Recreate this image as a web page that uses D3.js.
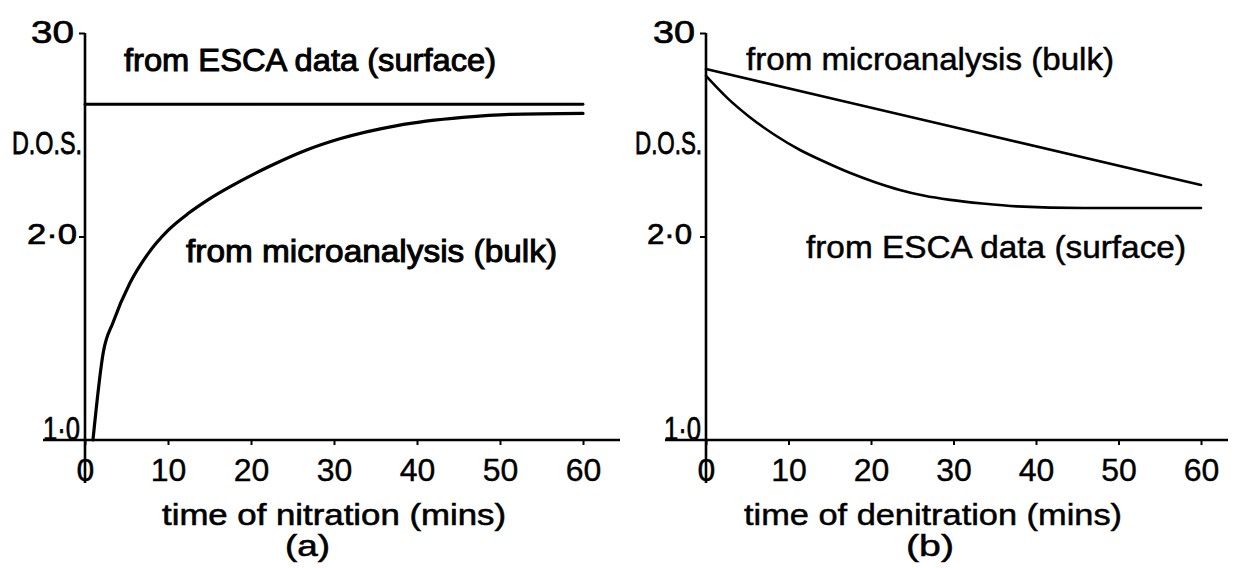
<!DOCTYPE html>
<html>
<head>
<meta charset="utf-8">
<script src="https://cdn.jsdelivr.net/npm/d3@7/dist/d3.min.js"></script>
<style>
  html, body { margin: 0; padding: 0; background: #fff; }
  svg { display: block; }
  text { font-family: "Liberation Sans", "DejaVu Sans", sans-serif; fill: #000; }
</style>
</head>
<body>
<svg id="chart" width="1234" height="568"></svg>
<script>
// Time axis (minutes) and D.O.S. axis
const xTicks = [0, 10, 20, 30, 40, 50, 60];
const yTicks = [1, 2, 3];
const yTickLabels = ["1·0", "2·0", "30"];

// (a) nitration: [time (mins), D.O.S.]
const nitrationSurface = [[0, 2.65], [60, 2.65]];
const nitrationBulk = [
  [0.96, 1.0], [2.2, 1.43], [3.4, 1.58], [5.4, 1.77], [7.5, 1.91], [10, 2.03],
  [12.5, 2.115], [15, 2.185], [17.5, 2.245], [22, 2.34], [26.7, 2.425],
  [30.7, 2.48], [37.6, 2.545], [45.5, 2.585], [51.2, 2.6], [60, 2.605]
];

// (b) denitration
const denitrationBulk = [[0, 2.823], [30, 2.538], [60, 2.253]];
const denitrationSurface = [
  [0, 2.789], [2.6, 2.68], [5.2, 2.59], [8.3, 2.5], [11.4, 2.425], [14.5, 2.365],
  [17.5, 2.312], [20.5, 2.267], [23.5, 2.229], [26.5, 2.2], [29.6, 2.18],
  [33.5, 2.162], [37.7, 2.148], [45.7, 2.14], [60, 2.14]
];

const svg = d3.select("#chart");

// Write a label stretched to a given width, with a slight stroke for pen weight
function label(g, str, x, y, size, width, anchor, weight) {
  const t = g.append("text")
    .attr("x", x).attr("y", y)
    .attr("font-size", size)
    .attr("text-anchor", anchor || "start")
    .attr("stroke", "#000").attr("stroke-width", weight || 0.5)
    .text(str);
  if (width) t.attr("textLength", width).attr("lengthAdjust", "spacingAndGlyphs");
  return t;
}

function panel(opts) {
  const g = svg.append("g");
  const x = d3.scaleLinear().domain([0, 60]).range([opts.x0, opts.x0 + opts.w]);
  const y = d3.scaleLinear().domain([1, 3]).range([440, 33]);

  // x axis: extended baseline plus downward ticks
  g.append("line")
    .attr("x1", x(0) - opts.axisLeftExt).attr("x2", opts.axisRight)
    .attr("y1", y(1)).attr("y2", y(1))
    .attr("stroke", "#000").attr("stroke-width", 2.6);

  const xa = g.append("g")
    .attr("transform", `translate(0,${y(1)})`)
    .call(d3.axisBottom(x).tickValues(xTicks).tickSize(5).tickPadding(13).tickFormat(d3.format("d")));
  xa.select(".domain").remove();
  xa.selectAll(".tick line").attr("stroke", "#000").attr("stroke-width", 2);
  xa.selectAll(".tick text")
    .attr("font-size", 32).attr("font-family", "Liberation Sans, DejaVu Sans, sans-serif")
    .attr("fill", "#000").attr("stroke", "#000").attr("stroke-width", 0.4);

  // y axis running down through the "0" label
  g.append("line")
    .attr("x1", x(0)).attr("x2", x(0))
    .attr("y1", y(3)).attr("y2", y(1) + 43)
    .attr("stroke", "#000").attr("stroke-width", 2.6);

  const ya = g.append("g")
    .attr("transform", `translate(${x(0)},0)`)
    .call(d3.axisLeft(y).tickValues([2, 3]).tickSize(6).tickFormat(""));
  ya.select(".domain").remove();
  ya.selectAll(".tick line").attr("stroke", "#000").attr("stroke-width", 2);

  // y tick labels
  yTicks.forEach((v, i) => {
    const p = opts.yLabels[i];
    label(g, yTickLabels[i], x(0) - p.gap, y(v) + p.dy, p.size, p.width, "end", 0.7);
  });
  label(g, "D.O.S.", x(0) - opts.dosGap, 154, 31, opts.dosWidth, "end", 0.8);

  // series
  const line = d3.line().x(d => x(d[0])).y(d => y(d[1])).curve(d3.curveMonotoneX);
  opts.series.forEach(s => {
    g.append("path").datum(s.data)
      .attr("d", line)
      .attr("fill", "none").attr("stroke", "#000")
      .attr("stroke-width", s.width).attr("stroke-linejoin", "round").attr("stroke-linecap", "round");
  });

  // annotations and titles
  opts.texts.forEach(t => label(g, t.str, t.x, t.y, t.size, t.width, "start", t.weight));
}

panel({
  x0: 85, w: 498, axisLeftExt: 42, axisRight: 620, dosGap: 3, dosWidth: 70,
  yLabels: [
    { gap: 5, dy: 0, size: 33, width: 37 },
    { gap: 8, dy: 7, size: 30, width: 50 },
    { gap: 11, dy: 10, size: 32, width: 43 }
  ],
  series: [
    { data: nitrationSurface, width: 2.8 },
    { data: nitrationBulk, width: 3.2 }
  ],
  texts: [
    { str: "from ESCA data (surface)", x: 124, y: 71, size: 32, width: 372, weight: 1.0 },
    { str: "from microanalysis (bulk)", x: 186, y: 262, size: 32, width: 371, weight: 1.0 },
    { str: "time of nitration (mins)", x: 162, y: 525, size: 30, width: 344, weight: 0.6 },
    { str: "(a)", x: 285, y: 556, size: 30, width: 45, weight: 0.6 }
  ]
});

panel({
  x0: 706, w: 495, axisLeftExt: 41, axisRight: 1228, dosGap: 4, dosWidth: 67,
  yLabels: [
    { gap: 5, dy: 0, size: 33, width: 37 },
    { gap: 14, dy: 7, size: 30, width: 45 },
    { gap: 11, dy: 10, size: 32, width: 42 }
  ],
  series: [
    { data: denitrationBulk, width: 2.6 },
    { data: denitrationSurface, width: 2.6 }
  ],
  texts: [
    { str: "from microanalysis (bulk)", x: 746, y: 70, size: 32, width: 368, weight: 0.5 },
    { str: "from ESCA data (surface)", x: 806, y: 258, size: 32, width: 380, weight: 0.5 },
    { str: "time of denitration (mins)", x: 744, y: 525, size: 30, width: 378, weight: 0.5 },
    { str: "(b)", x: 906, y: 556, size: 30, width: 48, weight: 0.5 }
  ]
});
</script>
</body>
</html>
